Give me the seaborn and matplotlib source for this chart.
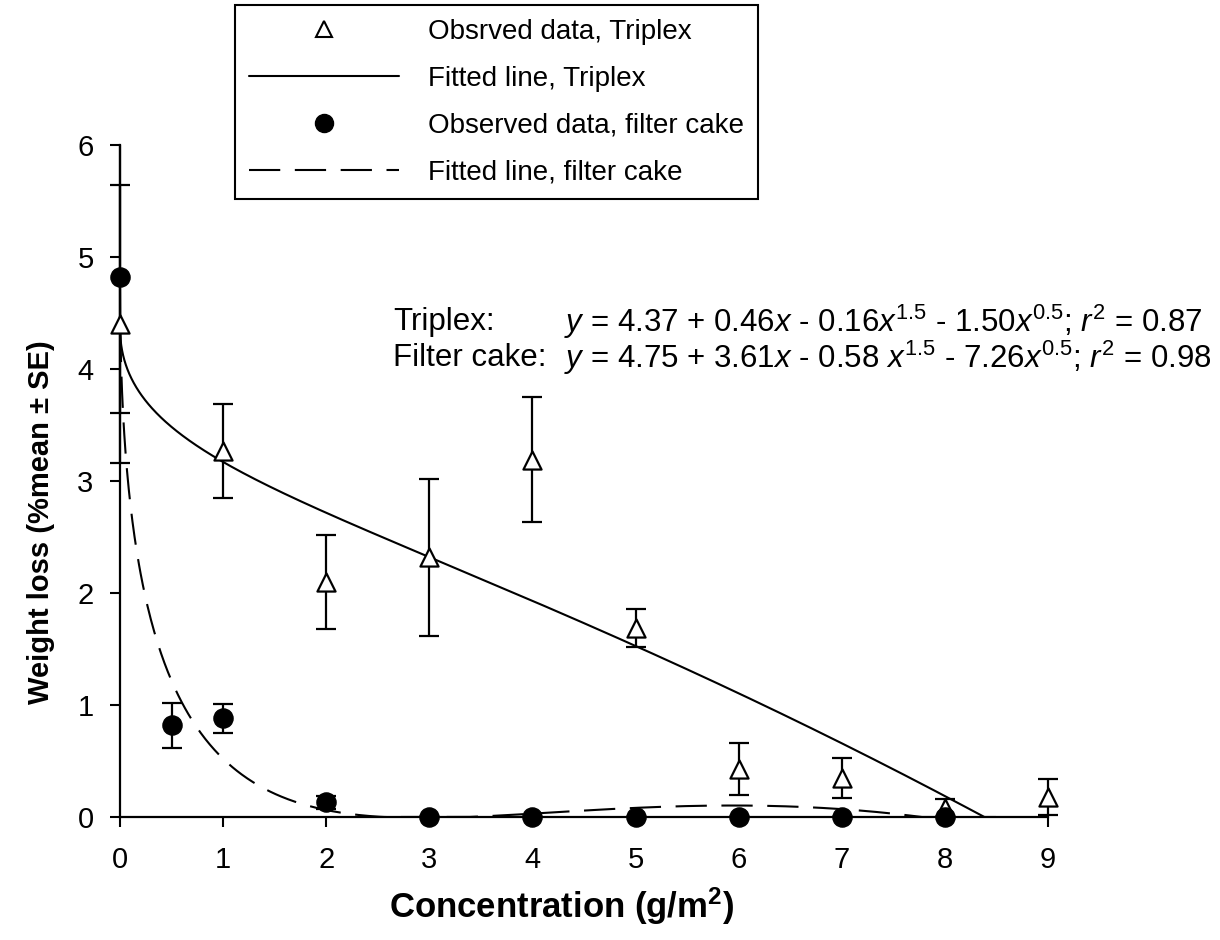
import numpy as np
import pandas as pd
import matplotlib
matplotlib.use("Agg")
import matplotlib.pyplot as plt
from matplotlib.lines import Line2D
from matplotlib.patches import Rectangle
import seaborn as sns

# ---- observed data (mean and standard error) ----
triplex_x = [0, 1, 2, 3, 4, 5, 6, 7, 8, 9]
triplex_mean = [4.40, 3.27, 2.10, 2.32, 3.19, 1.69, 0.43, 0.35, 0.08, 0.18]
triplex_se = [1.24, 0.42, 0.42, 0.70, 0.56, 0.17, 0.23, 0.18, 0.08, 0.16]

cake_x = [0, 0.5, 1, 2, 3, 4, 5, 6, 7, 8]
cake_mean = [4.82, 0.82, 0.88, 0.13, 0.0, 0.0, 0.0, 0.0, 0.0, 0.0]
cake_se = [1.21, 0.20, 0.13, 0.06, 0.0, 0.0, 0.0, 0.0, 0.0, 0.0]

# ---- fitted models: y = a + b*x + c*x^1.5 + d*x^0.5 ----
triplex_coef = [4.37, 0.46, -0.16, -1.50]
triplex_r2 = 0.87
cake_coef = [4.75, 3.61, -0.58, -7.26]
cake_r2 = 0.98

x_ticks = [0, 1, 2, 3, 4, 5, 6, 7, 8, 9]
y_ticks = [0, 1, 2, 3, 4, 5, 6]
legend_labels = ["Obsrved data, Triplex", "Fitted line, Triplex",
                 "Observed data, filter cake", "Fitted line, filter cake"]


def model(coef, x):
    a, b, c, d = coef
    return np.clip(a + b * x + c * x ** 1.5 + d * np.sqrt(x), 0, None)


def equation(coef, r2, gap=""):
    a, b, c, d = coef
    return (f"$y$ = {a:.2f} + {b:.2f}$x$ - {abs(c):.2f}{gap}$x^{{1.5}}$ - "
            f"{abs(d):.2f}$x^{{0.5}}$; $r^2$ = {r2:.2f}")


sns.set_theme(style="ticks", rc={
    "text.color": "black", "axes.labelcolor": "black",
    "xtick.color": "black", "ytick.color": "black", "axes.edgecolor": "black",
})
plt.rcParams["font.family"] = ["Liberation Sans", "DejaVu Sans"]
plt.rcParams["mathtext.fontset"] = "custom"
plt.rcParams["mathtext.rm"] = "Liberation Sans"
plt.rcParams["mathtext.it"] = "Liberation Sans:italic"
plt.rcParams["mathtext.bf"] = "Liberation Sans:bold"

fig = plt.figure(figsize=(12.2, 9.4), dpi=100)
ax = fig.add_axes([120 / 1220, 1 - 817 / 940, 928 / 1220, 672 / 940])

# fitted curves
grid = np.concatenate([np.linspace(0, 0.2, 200), np.linspace(0.2, 9, 800)[1:]])
g_tri = grid[grid <= 8.5]
g_cake = grid[grid <= 8.0]
fit_tri = pd.DataFrame({"x": g_tri, "y": model(triplex_coef, g_tri)})
fit_cake = pd.DataFrame({"x": g_cake, "y": model(cake_coef, g_cake)})
sns.lineplot(data=fit_tri, x="x", y="y", color="black", lw=1.5, sort=False,
             estimator=None, ax=ax, zorder=2)
sns.lineplot(data=fit_cake, x="x", y="y", color="black", lw=1.5, sort=False,
             estimator=None, ax=ax, zorder=2, linestyle=(0, (15, 7)))

# error bars, allowed to spill past the left/right edges but not above or below
clip_rect = Rectangle((-0.05, 0.0), 1.1, 1.0, transform=ax.transAxes,
                      facecolor="none", edgecolor="none")
for xs, ms, se in [(triplex_x, triplex_mean, triplex_se), (cake_x, cake_mean, cake_se)]:
    cont = ax.errorbar(xs, ms, yerr=se, fmt="none", ecolor="black",
                       elinewidth=1.6, capsize=7.5, capthick=1.6, zorder=3)
    for art in list(cont[1]) + list(cont[2]):
        art.set_clip_on(True)
        art.set_clip_path(clip_rect)

# observed points
obs_tri = pd.DataFrame({"x": triplex_x, "y": triplex_mean})
obs_cake = pd.DataFrame({"x": cake_x, "y": cake_mean})
sns.scatterplot(data=obs_tri, x="x", y="y", marker="^", s=170, color="white",
                edgecolor="black", linewidth=1.6, ax=ax, zorder=5)
ax.collections[-1].set_clip_on(False)
sns.scatterplot(data=obs_cake, x="x", y="y", marker="o", s=190, color="black",
                edgecolor="black", linewidth=1, ax=ax, zorder=6)
ax.collections[-1].set_clip_on(False)

# axes styling
ax.set_xlim(0, 9)
ax.set_ylim(0, 6)
ax.set_xticks(x_ticks)
ax.set_yticks(y_ticks)
sns.despine(ax=ax)
for side in ["left", "bottom"]:
    ax.spines[side].set_linewidth(1.6)
    ax.spines[side].set_color("black")
ax.tick_params(direction="out", length=7, width=1.5, colors="black",
               labelsize=21)
ax.tick_params(axis="x", pad=14)
ax.tick_params(axis="y", pad=12)
ax.set_xlabel("Concentration (g/m$^{\\mathbf{2}}$)", fontsize=25, fontweight="bold")
ax.set_ylabel("Weight loss (%mean ± SE)", fontsize=21, fontweight="bold")
ax.xaxis.set_label_coords(0.476, -0.102)
ax.yaxis.set_label_coords(-0.070, 0.439)

# model equations
eq_fs = 22.5
ax.text(2.65, 4.42, "Triplex:", fontsize=eq_fs, va="center", ha="left")
ax.text(4.31, 4.42, equation(triplex_coef, triplex_r2), fontsize=eq_fs,
        va="center", ha="left")
ax.text(2.65, 4.10, "Filter cake:", fontsize=eq_fs, va="center", ha="left")
ax.text(4.31, 4.10, equation(cake_coef, cake_r2, gap=" "), fontsize=eq_fs,
        va="center", ha="left")

# legend above the plot
handles = [
    Line2D([], [], ls="none", marker="^", ms=11, mfc="white", mec="black", mew=1.5),
    Line2D([], [], color="black", lw=1.5),
    Line2D([], [], ls="none", marker="o", ms=13, mfc="black", mec="black"),
    Line2D([], [], color="black", lw=1.5, linestyle=(0, (15, 7))),
]
leg = fig.legend(handles, legend_labels, loc="upper left",
                 bbox_to_anchor=(235 / 1220, 1 - 5 / 940),
                 bbox_transform=fig.transFigure, fontsize=20, frameon=True,
                 fancybox=False, framealpha=1, edgecolor="black",
                 handlelength=5.4, handletextpad=1.05, labelspacing=0.75,
                 borderpad=0.5, borderaxespad=0)
leg.get_frame().set_linewidth(1.5)
leg.set_zorder(10)

fig.savefig("out.png", dpi=100, facecolor="white")
